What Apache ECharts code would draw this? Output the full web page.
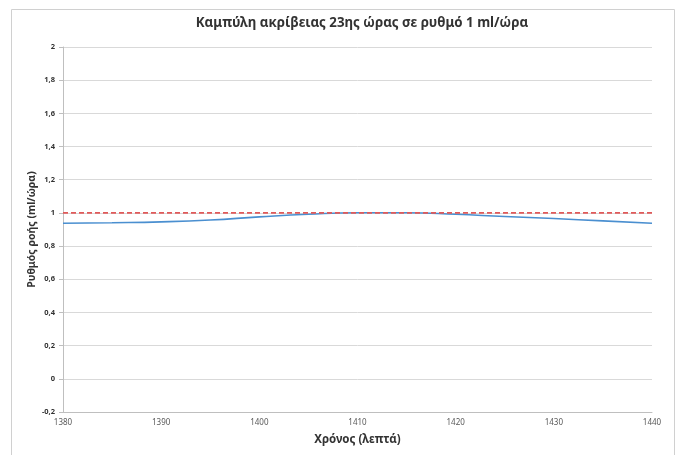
<!DOCTYPE html>
<html><head><meta charset="utf-8">
<script src="https://cdn.jsdelivr.net/npm/echarts@6/dist/echarts.min.js"></script>
<style>html,body{margin:0;padding:0;background:#fff}#c{width:684px;height:455px}</style>
</head><body><div id="c"></div>
<script>
const titleText = 'Καμπύλη ακρίβειας 23ης ώρας σε ρυθμό 1 ml/ώρα';
const xName = 'Χρόνος (λεπτά)';
const yName = 'Ρυθμός ροής (ml/ώρα)';
const times = [1380, 1385, 1390, 1395, 1400, 1405, 1410, 1415, 1420, 1425, 1430, 1435, 1440];
const measured = [0.938, 0.941, 0.946, 0.957, 0.976, 0.992, 1.001, 1.001, 0.992, 0.978, 0.966, 0.952, 0.938];
const targetX = [1380, 1440];
const targetY = [1, 1];

const font = '"Noto Sans", "DejaVu Sans", sans-serif';
const chart = echarts.init(document.getElementById('c'), null, {renderer: 'canvas'});
chart.setOption({
  animation: false,
  backgroundColor: '#fff',
  graphic: [{
    type: 'rect', left: 9, top: 7,
    shape: {width: 663, height: 460},
    style: {fill: 'none', stroke: '#d0d0d0', lineWidth: 1}
  }],
  title: {
    text: titleText, left: 357, top: 12, textAlign: 'center',
    textStyle: {fontFamily: font, fontSize: 13.3, fontWeight: 'bold', color: '#333'}
  },
  grid: {left: 63, right: 32, top: 47, bottom: 43, containLabel: false},
  xAxis: {
    type: 'value', min: 1380, max: 1440, interval: 10,
    name: xName, nameLocation: 'middle', nameGap: 22,
    nameTextStyle: {fontFamily: font, fontSize: 11.5, fontWeight: 'bold', color: '#333'},
    axisLine: {show: true, onZero: false, lineStyle: {color: '#bfbfbf'}},
    axisTick: {show: false},
    splitLine: {show: false},
    axisLabel: {fontFamily: font, fontSize: 8, color: '#595959', margin: 7, formatter: v => String(v)}
  },
  yAxis: {
    type: 'value', min: -0.2, max: 2, interval: 0.2,
    name: yName, nameLocation: 'middle', nameGap: 25, nameRotate: 90, nameMoveOverlap: false,
    nameTextStyle: {fontFamily: font, fontSize: 10.5, fontWeight: 'bold', color: '#333'},
    axisLine: {show: true, lineStyle: {color: '#bfbfbf'}},
    axisTick: {show: true, length: 4, lineStyle: {color: '#bfbfbf'}},
    splitLine: {show: true, lineStyle: {color: '#d9d9d9'}},
    axisLabel: {
      fontFamily: font, fontSize: 7.5, fontWeight: 'bold', color: '#333', margin: 8,
      formatter: v => String(Number(v.toFixed(1))).replace('.', ',')
    }
  },
  series: [{
    type: 'line', data: times.map((t, i) => [t, measured[i]]),
    smooth: true, symbol: 'none',
    lineStyle: {color: '#4a8fd0', width: 1.6}, z: 2
  }, {
    type: 'line', data: targetX.map((t, i) => [t, targetY[i]]),
    symbol: 'none',
    lineStyle: {color: '#e05a5a', width: 1.6, type: [5, 3]}, z: 3
  }]
});
</script></body></html>
